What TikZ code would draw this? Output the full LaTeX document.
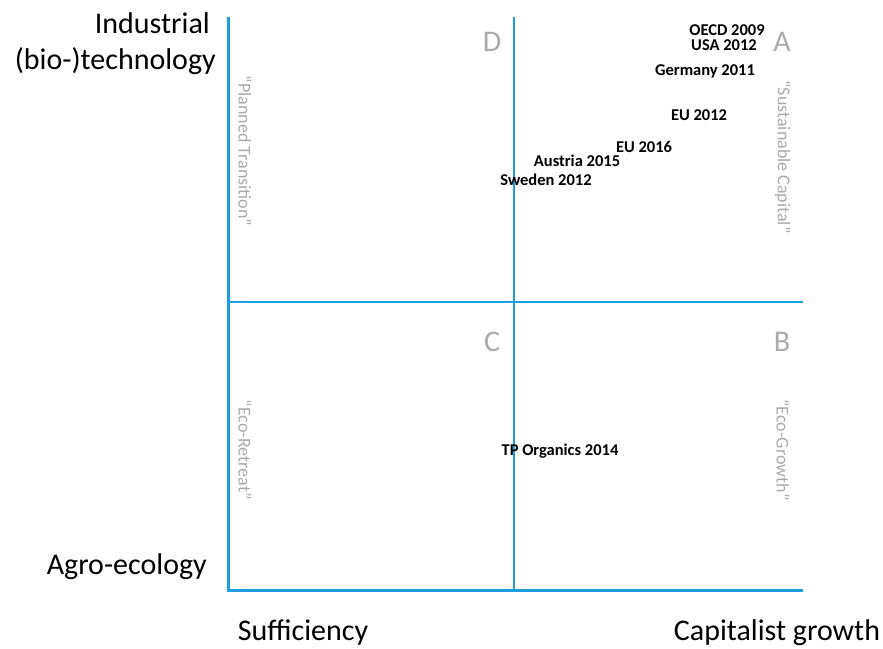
\documentclass[tikz,border=0pt]{standalone}
\usepackage{fontspec}
\setmainfont{Carlito}
\usepackage{xcolor}
\definecolor{axisblue}{RGB}{29,158,222}
\definecolor{quadgray}{RGB}{170,170,170}
\tikzset{
  axisline/.style={axisblue, line width=3pt},
  gridline/.style={axisblue, line width=1.5pt},
  axislabel/.style={font=\fontsize{30}{34}\selectfont, inner sep=0pt},
  quadrant/.style={font=\fontsize{30}{32}\selectfont, text=quadgray, inner sep=0pt},
  strategy/.style={font=\fontsize{18}{21}\selectfont, text=quadgray, rotate=-90, inner sep=0pt},
  policy/.style={font=\fontsize{16.5}{18}\selectfont\bfseries, inner sep=0pt}
}

\begin{document}
\begin{tikzpicture}[x=1pt, y=-1pt]
  \useasboundingbox (0,0) rectangle (883,648);
  % corners of the frame
  \coordinate (top) at (228,17);
  \coordinate (origin) at (228,590);
  \coordinate (right) at (803,590);
  \coordinate (midtop) at (514,17);
  \coordinate (midbot) at (514,590);
  \coordinate (midleft) at (228,302);
  \coordinate (midright) at (803,302);
  \draw[gridline] (midtop) -- (midbot);
  \draw[gridline] (midleft) -- (midright);
  \draw[axisline] (top) -- (origin) -- (right);
  % axis labels
  \node[axislabel, anchor=east] (ind) at (210,23) {Industrial};
  \node[axislabel, anchor=east] (biotech) at (216,61) {(bio-)technology};
  \node[axislabel, anchor=east] (agro) at (207,567) {Agro-ecology};
  \node[axislabel] (suff) at (303,633) {Sufficiency};
  \node[axislabel] (capgrowth) at (777,633) {Capitalist growth};
  % quadrants
  \node[quadrant] (qD) at (492,42) {D};
  \node[quadrant] (qA) at (782,42) {A};
  \node[quadrant] (qC) at (492,342) {C};
  \node[quadrant] (qB) at (782,342) {B};
  \node[strategy] (planned) at (245,151) {“Planned Transition”};
  \node[strategy] (sustcap) at (783,157) {“Sustainable Capital”};
  \node[strategy] (retreat) at (245,450) {“Eco-Retreat”};
  \node[strategy] (ecogrowth) at (783,450) {“Eco-Growth”};
  % policy documents
  \node[policy] (oecd) at (727,30) {OECD 2009};
  \node[policy] (usa) at (724,45) {USA 2012};
  \node[policy] (germany) at (705,71) {Germany 2011};
  \node[policy] (eu12) at (699,115) {EU 2012};
  \node[policy] (eu16) at (644,147) {EU 2016};
  \node[policy] (austria) at (577,161) {Austria 2015};
  \node[policy] (sweden) at (546,180) {Sweden 2012};
  \node[policy] (tporg) at (560,451) {TP Organics 2014};
\end{tikzpicture}
\end{document}
